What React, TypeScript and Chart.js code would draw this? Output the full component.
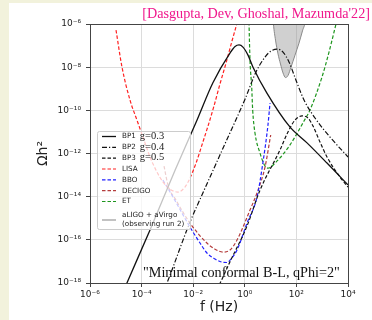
import React, { useEffect, useRef } from 'react';
import { Chart, registerables } from 'chart.js';

Chart.register(...registerables);

// ---- axes ----
const xTickValues = [1e-6, 1e-4, 1e-2, 1, 1e2, 1e4];
const xTickLabels = ['10⁻⁶', '10⁻⁴', '10⁻²', '10⁰', '10²', '10⁴'];
const yTickValues = [1e-18, 1e-16, 1e-14, 1e-12, 1e-10, 1e-8, 1e-6];
const yTickLabels = ['10⁻¹⁸', '10⁻¹⁶', '10⁻¹⁴', '10⁻¹²', '10⁻¹⁰', '10⁻⁸', '10⁻⁶'];

// ---- benchmark spectra ----
const bp1F = [1.0e-5, 2.7e-5, 2.1e-4, 2.0e-3, 1.4e-2, 5.8e-2, 0.27, 0.42, 0.6, 0.85, 1.33, 2.08, 7.2, 56, 258, 1535, 1e4];
const bp1Omega = [6e-20, 1e-18, 2.8e-16, 1.7e-13, 3.5e-11, 1.9e-9, 4.6e-8, 9.1e-8, 1.07e-7, 8.5e-8, 3.6e-8, 1.0e-8, 6.3e-10, 1.7e-11, 3.1e-12, 3.6e-13, 3.5e-14];

const bp2F = [5e-4, 9.6e-4, 7.5e-3, 2.19e-2, 0.15, 1.02, 2.72, 6.07, 10.4, 17.7, 30.3, 51.6, 96.4, 197, 526, 2005, 1e4];
const bp2Omega = [1.6e-19, 1e-18, 6.6e-16, 1.2e-14, 2.0e-12, 3.3e-10, 6.0e-9, 2.95e-8, 5.6e-8, 6.9e-8, 5.0e-8, 1.74e-8, 2.5e-9, 3.0e-10, 4.4e-11, 5.8e-12, 6.9e-13];

const bp3F = [4e-2, 9.4e-2, 0.267, 1.19, 3.88, 23.1, 47.2, 88.3, 165, 282, 440, 822, 1535, 4900, 1e4];
const bp3Omega = [1.1e-19, 6.7e-19, 9.7e-18, 4.1e-16, 2.0e-14, 1.45e-12, 1.0e-11, 3.55e-11, 5.5e-11, 4.4e-11, 1.87e-11, 3.4e-12, 6.9e-13, 8.1e-14, 2.8e-14];

// ---- detector sensitivities ----
const lisaF = [1.02e-5, 1.74e-5, 3.55e-5, 6.6e-5, 1.24e-4, 2.12e-4, 3.6e-4, 6.7e-4, 1.26e-3, 2.58e-3, 4.8e-3, 7.5e-3, 1.29e-2, 2.19e-2, 3.75e-2, 6.4e-2, 0.109, 0.187, 0.319, 0.5];
const lisaOmega = [5.2e-7, 1.0e-8, 3.0e-10, 3.55e-11, 4.2e-12, 6.9e-13, 1.7e-13, 4.8e-14, 2.25e-14, 1.63e-14, 2.8e-14, 7.3e-14, 3.6e-13, 2.5e-12, 1.87e-11, 1.6e-10, 1.66e-9, 1.55e-8, 1.63e-7, 1.1e-6];

const bboF = [6.7e-4, 1.65e-3, 7.5e-3, 1.84e-2, 3.4e-2, 7.0e-2, 0.131, 0.204, 0.292, 0.5, 1.22, 2.97, 5.07, 7.9, 9.5];
const bboOmega = [5.9e-14, 9.6e-15, 3.9e-16, 7.1e-17, 2.45e-17, 1.29e-17, 9.3e-18, 8.9e-18, 1.29e-17, 3.4e-17, 6.0e-16, 9.6e-15, 4.0e-13, 2.1e-11, 2.2e-10];

const decigoF = [7.4e-4, 1.05e-3, 2.15e-3, 7.5e-3, 3.4e-2, 7.0e-2, 0.143, 0.267, 0.5, 1.59, 3.25, 6.07, 10.1];
const decigoOmega = [2.6e-13, 3.5e-14, 6.9e-15, 6.0e-16, 7.1e-17, 3.7e-17, 2.7e-17, 3.4e-17, 9.8e-17, 2.4e-15, 2.0e-14, 2.35e-13, 7.2e-12];

const etF = [1.39, 1.46, 1.59, 1.85, 2.02, 2.48, 3.88, 5.55, 7.9, 16.2, 56.5, 197, 336, 982, 1837, 3430];
const etOmega = [1.3e-5, 1e-6, 2.1e-8, 1.2e-9, 1.03e-10, 8.9e-12, 1.05e-12, 3.2e-13, 2.1e-13, 4.0e-13, 2.5e-12, 3.2e-11, 1.03e-10, 3.5e-9, 5.0e-8, 1e-6];

const ligoF = [11.9, 12.9, 15.5, 19.4, 24.2, 30.3, 37.8, 47.2, 61.8, 88.3, 126, 172, 225, 246];
const ligoOmega = [4.5e-6, 1e-6, 1.8e-7, 4.1e-8, 1.4e-8, 5.4e-9, 3.3e-9, 4.1e-9, 1.0e-8, 3.6e-8, 1.3e-7, 4.8e-7, 1.5e-6, 4.5e-6];

// ---- texts ----
const legendNames = ['BP1', 'BP2', 'BP3', 'LISA', 'BBO', 'DECIGO', 'ET', 'aLIGO + aVirgo'];
const legendCouplings = ['g=0.3', 'g=0.4', 'g=0.5'];
const ligoSecondLine = '(observing run 2)';
const citation = "[Dasgupta, Dev, Ghoshal, Mazumda'22]";
const annotation = '"Minimal conformal B-L, qPhi=2"';
const xTitle = 'f (Hz)';
const yTitle = 'Ωh²';

const pts = (f: number[], o: number[]) => f.map((x, i) => ({ x, y: o[i] }));

const DASH = [3.5, 2];
const DASHDOT = [5, 2, 1.2, 2];

const line = (label: string, f: number[], o: number[], color: string, dash: number[], width = 1.2) => ({
  label,
  data: pts(f, o),
  showLine: true,
  borderColor: color,
  backgroundColor: color,
  borderWidth: width,
  borderDash: dash,
  pointRadius: 0,
  cubicInterpolationMode: 'monotone',
  fill: false,
});

const decorPlugin = {
  id: 'decor',
  beforeDraw(chart: any) {
    const { ctx, width, height } = chart;
    ctx.save();
    ctx.fillStyle = '#f2f2dc';
    ctx.fillRect(0, 0, width, height);
    ctx.fillStyle = '#ffffff';
    ctx.fillRect(9, 3, width - 9, height - 3);
    ctx.restore();
  },
  afterDatasetsDraw(chart: any) {
    const { ctx, chartArea: a } = chart;
    const ds = chart.data.datasets;
    ctx.save();
    // frame
    ctx.strokeStyle = '#444';
    ctx.lineWidth = 1;
    ctx.setLineDash([]);
    ctx.strokeRect(a.left + 0.5, a.top + 0.5, a.right - a.left, a.bottom - a.top);

    // legend
    const lx = 97, ly = 131, lw = 93, lh = 98;
    ctx.beginPath();
    ctx.roundRect(lx + 0.5, ly + 0.5, lw, lh, 2);
    ctx.fillStyle = 'rgba(255,255,255,0.75)';
    ctx.fill();
    ctx.strokeStyle = '#cccccc';
    ctx.stroke();

    const sx0 = 102, sx1 = 116, tx = 122;
    for (let i = 0; i < legendNames.length; i++) {
      const isLigo = i === legendNames.length - 1;
      const yc = isLigo ? ly + 89 : ly + 5.5 + i * 10.83;
      const d = ds[i];
      ctx.beginPath();
      ctx.strokeStyle = isLigo ? '#9a9a9a' : d.borderColor;
      ctx.lineWidth = isLigo ? 1.2 : d.borderWidth;
      ctx.setLineDash(isLigo ? [] : d.borderDash);
      ctx.moveTo(sx0, yc);
      ctx.lineTo(sx1, yc);
      ctx.stroke();
      ctx.setLineDash([]);
      ctx.fillStyle = '#222';
      ctx.textBaseline = 'middle';
      ctx.textAlign = 'left';
      ctx.font = '7.2px "DejaVu Sans"';
      if (isLigo) {
        ctx.fillText(legendNames[i], tx, yc - 4.5);
        ctx.fillText(ligoSecondLine, tx, yc + 4.5);
      } else {
        ctx.fillText(legendNames[i], tx, yc);
        if (i < legendCouplings.length) {
          const w = ctx.measureText(legendNames[i]).width;
          ctx.font = '10.5px "Liberation Serif"';
          ctx.fillText(legendCouplings[i], tx + w + 4, yc - 0.5);
        }
      }
    }

    // annotation
    ctx.textBaseline = 'alphabetic';
    ctx.textAlign = 'left';
    ctx.font = '14.2px "Liberation Serif"';
    ctx.fillStyle = '#111';
    ctx.fillText(annotation, 143, 276.5);

    // citation
    ctx.textAlign = 'right';
    ctx.fillStyle = '#f0188c';
    ctx.fillText(citation, 370, 17.5);
    ctx.restore();
  },
};

export default function App() {
  const ref = useRef<HTMLCanvasElement | null>(null);

  useEffect(() => {
    if (!ref.current) return;
    const datasets: any[] = [
      line('BP1', bp1F, bp1Omega, '#111111', [], 1.3),
      line('BP2', bp2F, bp2Omega, '#111111', DASHDOT),
      line('BP3', bp3F, bp3Omega, '#111111', DASH),
      line('LISA', lisaF, lisaOmega, '#ff2020', DASH),
      line('BBO', bboF, bboOmega, '#2020ff', DASH),
      line('DECIGO', decigoF, decigoOmega, '#b43c3c', DASH),
      line('ET', etF, etOmega, '#1e961e', DASH),
      {
        label: 'aLIGO + aVirgo',
        data: pts(ligoF, ligoOmega),
        showLine: true,
        borderColor: '#8a8a8a',
        backgroundColor: 'rgba(150,150,150,0.45)',
        borderWidth: 1,
        borderDash: [],
        pointRadius: 0,
        cubicInterpolationMode: 'monotone',
        fill: 'end',
      },
    ];

    const tickFont = { family: 'DejaVu Sans', size: 9 };
    const chart = new Chart(ref.current, {
      type: 'scatter',
      data: { datasets },
      plugins: [decorPlugin],
      options: {
        animation: false,
        responsive: false,
        devicePixelRatio: 1,
        layout: { padding: { top: 24, right: 24, left: 0, bottom: 0 } },
        plugins: { legend: { display: false }, tooltip: { enabled: false } },
        scales: {
          x: {
            type: 'logarithmic',
            position: 'bottom',
            min: 1e-6,
            max: 1e4,
            afterBuildTicks: (s: any) => {
              s.ticks = xTickValues.map((v) => ({ value: v }));
            },
            afterFit: (s: any) => {
              s.height = 37;
            },
            ticks: {
              autoSkip: false,
              maxRotation: 0,
              padding: 2,
              color: '#222',
              font: tickFont,
              callback: (v: any) => xTickLabels[xTickValues.indexOf(Number(v))] ?? '',
            },
            grid: { color: '#dcdcdc', lineWidth: 1, tickLength: 4, tickColor: '#444', drawTicks: true },
            border: { display: false },
            title: {
              display: true,
              text: xTitle,
              color: '#222',
              font: { family: 'DejaVu Sans', size: 14 },
              padding: { top: 0, bottom: 4.6 },
            },
          },
          y: {
            type: 'logarithmic',
            position: 'left',
            min: 1e-18,
            max: 1e-6,
            afterBuildTicks: (s: any) => {
              s.ticks = yTickValues.map((v) => ({ value: v }));
            },
            afterFit: (s: any) => {
              s.width = 90;
            },
            ticks: {
              autoSkip: false,
              padding: 5,
              color: '#222',
              font: tickFont,
              callback: (v: any) => yTickLabels[yTickValues.indexOf(Number(v))] ?? '',
            },
            grid: { color: '#dcdcdc', lineWidth: 1, tickLength: 4, tickColor: '#444', drawTicks: true },
            border: { display: false },
            title: {
              display: true,
              text: yTitle,
              color: '#222',
              font: { family: 'DejaVu Sans', size: 14 },
              padding: { top: 34.6, bottom: 0 },
            },
          },
        },
      } as any,
    });
    return () => chart.destroy();
  }, []);

  return (
    <canvas
      ref={ref}
      width={372}
      height={320}
      style={{ position: 'fixed', left: 0, top: 0, width: 372, height: 320, display: 'block' }}
    />
  );
}
